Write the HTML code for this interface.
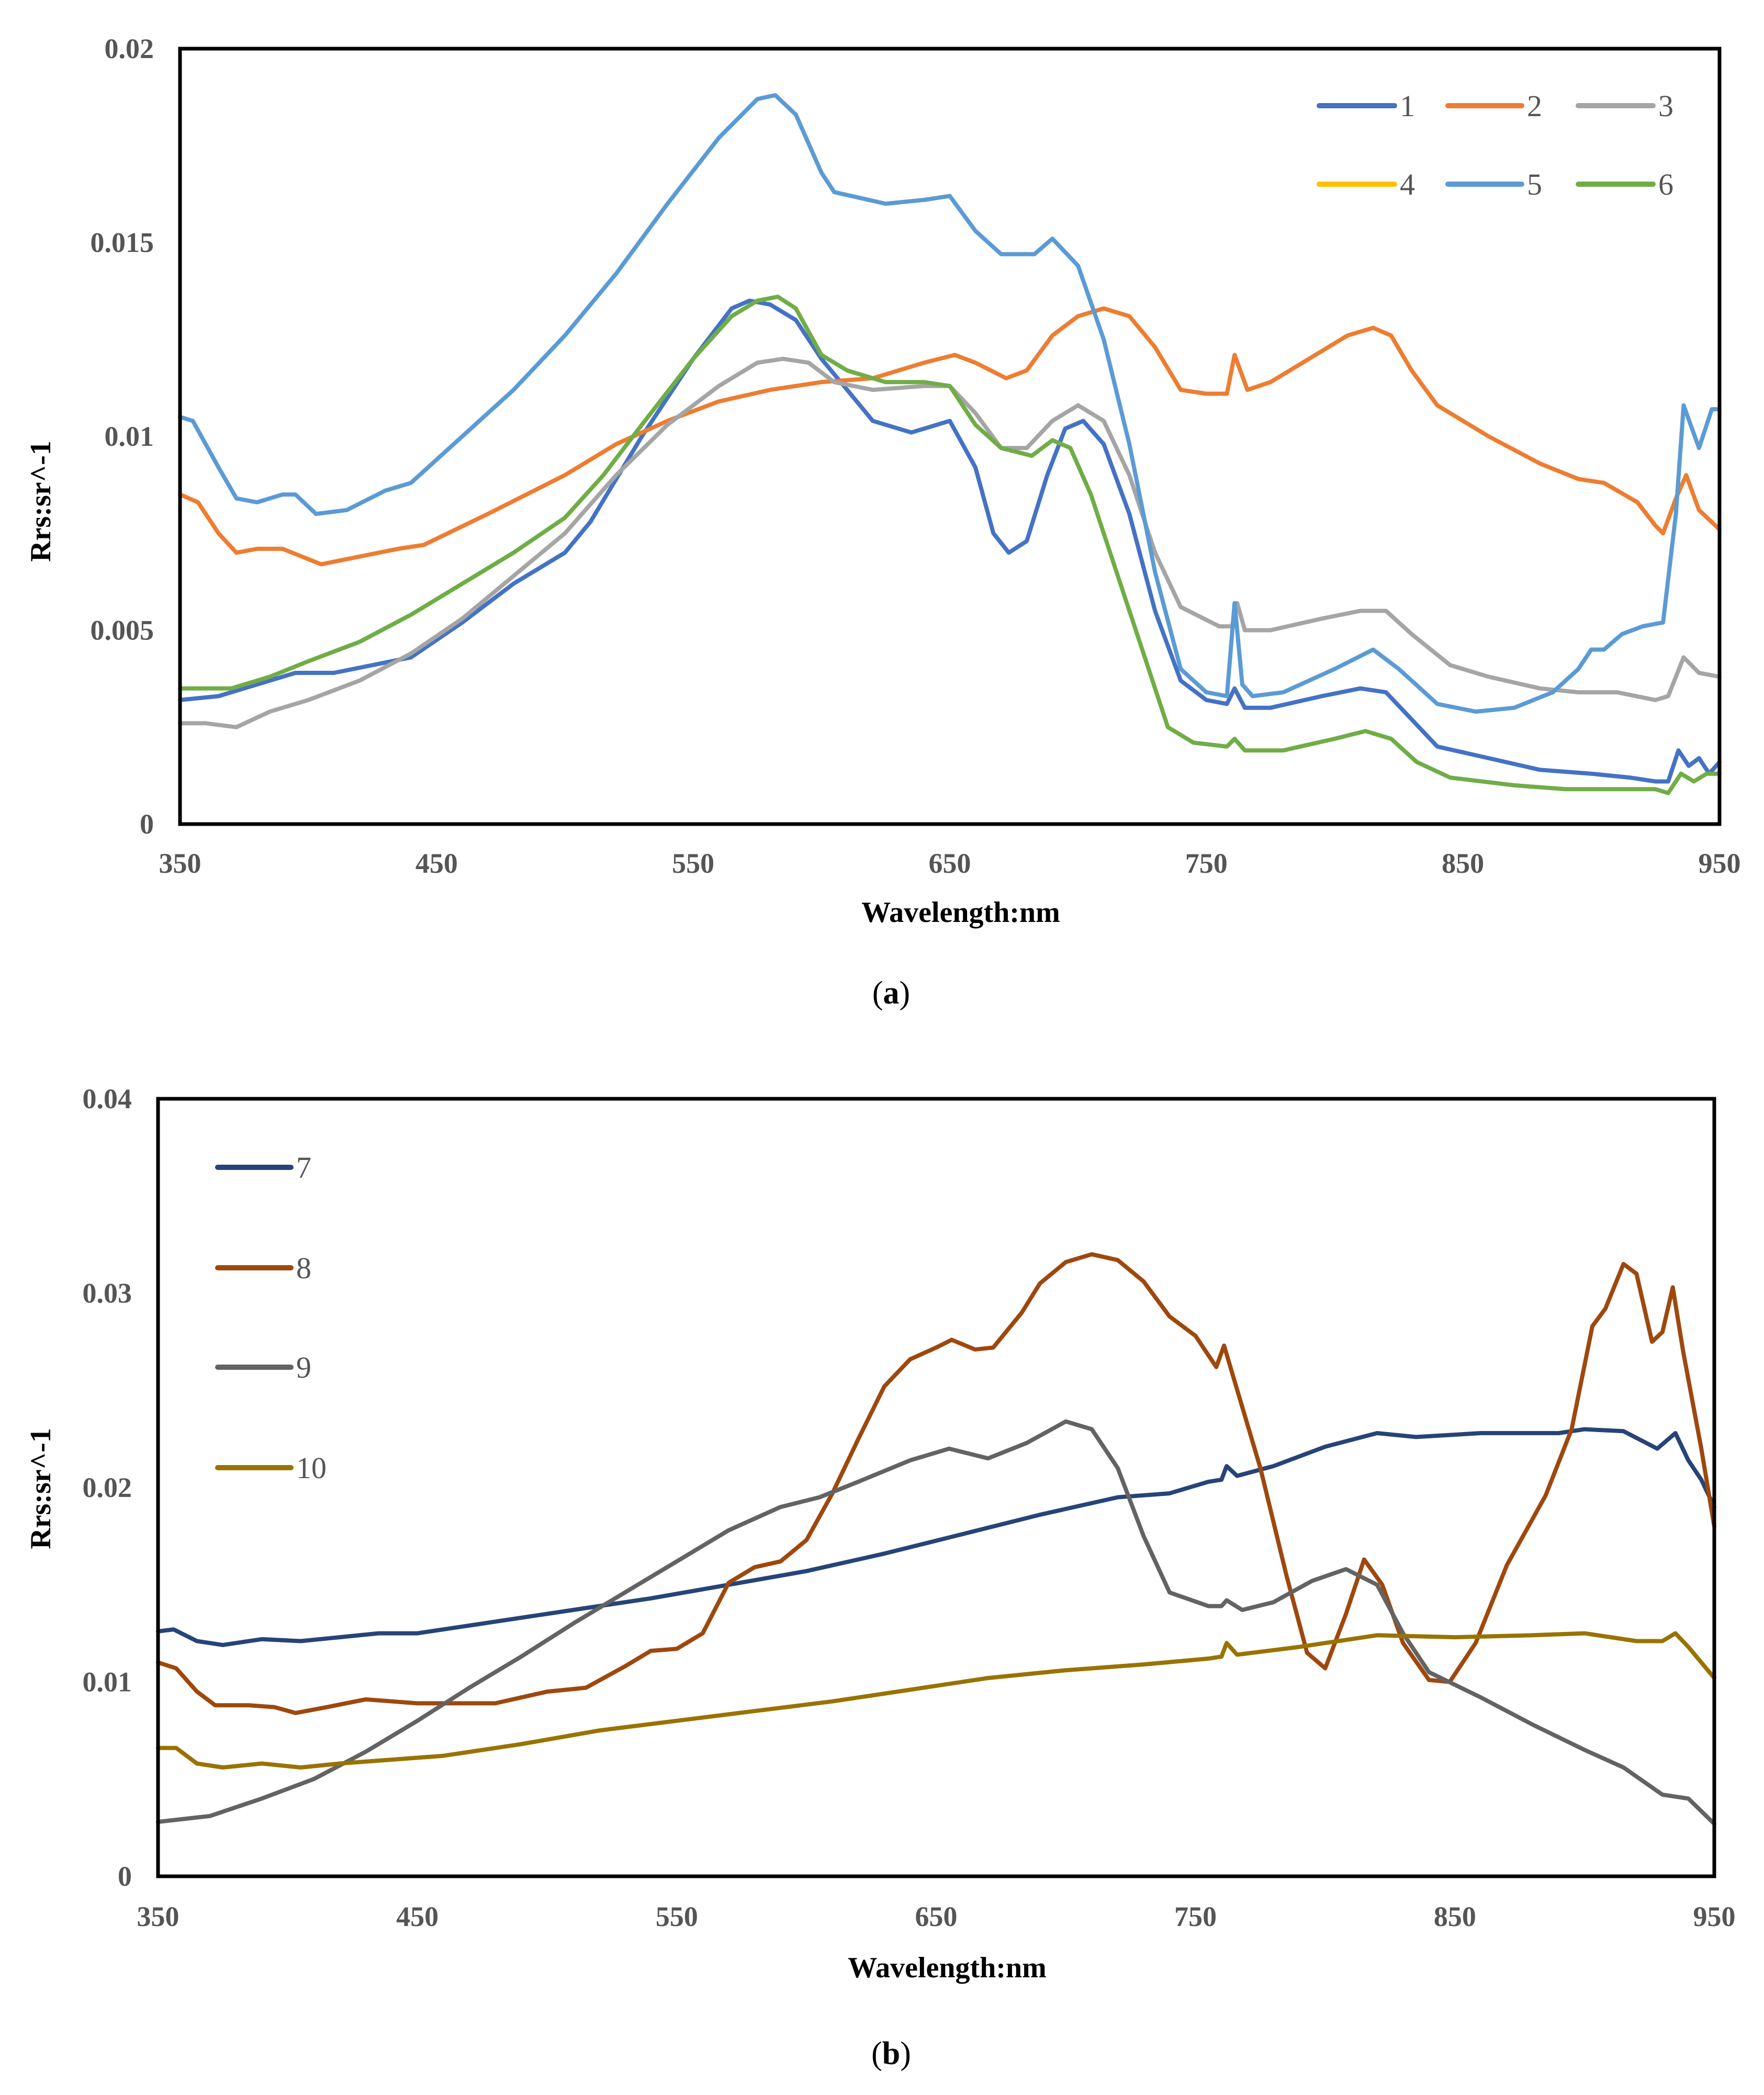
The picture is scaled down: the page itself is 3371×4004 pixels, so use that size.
<!DOCTYPE html>
<html><head><meta charset="utf-8">
<style>
html,body{margin:0;padding:0;background:#fff;}
svg{display:block;}
text{font-family:"Liberation Serif",serif;}
</style></head>
<body>
<svg id="fig" width="3371" height="4004" viewBox="0 0 3371 4004" xmlns="http://www.w3.org/2000/svg">
<g id="chartA"></g>
<g id="chartB"></g>
<text x="1703" y="1918" font-size="62" text-anchor="middle" fill="#000">(<tspan font-weight="bold">a</tspan>)</text>
<text x="1703" y="3945" font-size="62" text-anchor="middle" fill="#000">(<tspan font-weight="bold">b</tspan>)</text>
</svg>
<script>
const NS="http://www.w3.org/2000/svg";
// ---- chart A data ----
const xTicks=[350,450,550,650,750,850,950];
const yTicksA=[0,0.005,0.01,0.015,0.02];
const yTickLabelsA=["0","0.005","0.01","0.015","0.02"];
const namesA=["1","2","3","4","5","6"];
const colorsA=["#4472C4","#ED7D31","#A5A5A5","#FFC000","#5B9BD5","#70AD47"];
const s1wl=[350,365,380,395,410,425,440,460,480,500,510,530,550,565,572,580,590,600,610,620,635,650,660,667,673,680,688,695,702,710,720,730,740,750,758,761,765,775,795,810,820,830,840,860,880,900,915,925,930,934,938,942,946,950];
const s1v=[0.0032,0.0033,0.0036,0.0039,0.0039,0.0041,0.0043,0.0052,0.0062,0.0070,0.0078,0.0100,0.0120,0.0133,0.0135,0.0134,0.0130,0.0120,0.0112,0.0104,0.0101,0.0104,0.0092,0.0075,0.0070,0.0073,0.0090,0.0102,0.0104,0.0098,0.0080,0.0055,0.0037,0.0032,0.0031,0.0035,0.0030,0.0030,0.0033,0.0035,0.0034,0.0027,0.0020,0.0017,0.0014,0.0013,0.0012,0.0011,0.0011,0.0019,0.0015,0.0017,0.0013,0.0016];
const s2wl=[350,357,365,372,380,390,405,420,435,445,470,500,520,540,560,580,600,620,640,652,660,672,680,690,700,710,720,730,740,750,758,761,766,775,790,805,815,822,830,840,860,880,895,905,918,925,928,933,937,942,950];
const s2v=[0.0085,0.0083,0.0075,0.0070,0.0071,0.0071,0.0067,0.0069,0.0071,0.0072,0.0080,0.0090,0.0098,0.0104,0.0109,0.0112,0.0114,0.0115,0.0119,0.0121,0.0119,0.0115,0.0117,0.0126,0.0131,0.0133,0.0131,0.0123,0.0112,0.0111,0.0111,0.0121,0.0112,0.0114,0.0120,0.0126,0.0128,0.0126,0.0117,0.0108,0.0100,0.0093,0.0089,0.0088,0.0083,0.0077,0.0075,0.0084,0.0090,0.0081,0.0076];
const s3wl=[350,360,372,385,400,420,440,460,480,500,520,540,560,575,585,595,605,620,640,650,660,670,680,690,700,710,720,730,740,755,760,762,765,775,795,810,820,830,845,860,880,895,910,925,930,936,942,950];
const s3v=[0.0026,0.0026,0.0025,0.0029,0.0032,0.0037,0.0044,0.0053,0.0064,0.0075,0.0090,0.0103,0.0113,0.0119,0.0120,0.0119,0.0114,0.0112,0.0113,0.0113,0.0106,0.0097,0.0097,0.0104,0.0108,0.0104,0.0090,0.0070,0.0056,0.0051,0.0051,0.0057,0.0050,0.0050,0.0053,0.0055,0.0055,0.0049,0.0041,0.0038,0.0035,0.0034,0.0034,0.0032,0.0033,0.0043,0.0039,0.0038];
const s4wl=[];
const s4v=[];
const s5wl=[350,355,365,372,380,390,395,403,415,430,440,460,480,500,520,540,560,575,582,590,600,605,625,640,650,660,670,683,690,700,710,720,730,740,750,758,761,764,768,780,800,815,825,840,855,870,885,895,900,905,912,920,928,933,936,942,947,950];
const s5v=[0.0105,0.0104,0.0092,0.0084,0.0083,0.0085,0.0085,0.0080,0.0081,0.0086,0.0088,0.0100,0.0112,0.0126,0.0142,0.0160,0.0177,0.0187,0.0188,0.0183,0.0168,0.0163,0.0160,0.0161,0.0162,0.0153,0.0147,0.0147,0.0151,0.0144,0.0125,0.0098,0.0065,0.0040,0.0034,0.0033,0.0057,0.0036,0.0033,0.0034,0.0040,0.0045,0.0040,0.0031,0.0029,0.0030,0.0034,0.0040,0.0045,0.0045,0.0049,0.0051,0.0052,0.0080,0.0108,0.0097,0.0107,0.0107];
const s6wl=[350,370,385,400,420,440,460,480,500,515,530,550,565,575,583,590,600,610,625,640,650,660,670,682,690,697,705,715,725,735,745,758,761,765,780,800,812,822,832,845,870,890,910,925,930,935,940,945,950];
const s6v=[0.0035,0.0035,0.0038,0.0042,0.0047,0.0054,0.0062,0.0070,0.0079,0.0090,0.0103,0.0120,0.0131,0.0135,0.0136,0.0133,0.0121,0.0117,0.0114,0.0114,0.0113,0.0103,0.0097,0.0095,0.0099,0.0097,0.0085,0.0065,0.0045,0.0025,0.0021,0.0020,0.0022,0.0019,0.0019,0.0022,0.0024,0.0022,0.0016,0.0012,0.0010,0.0009,0.0009,0.0009,0.0008,0.0013,0.0011,0.0013,0.0013];
// ---- chart B data ----
const yTicksB=[0,0.01,0.02,0.03,0.04];
const yTickLabelsB=["0","0.01","0.02","0.03","0.04"];
const namesB=["7","8","9","10"];
const colorsB=["#264478","#9E480E","#636363","#997300"];
const s7wl=[350,356,365,375,390,405,420,435,450,480,510,540,570,600,630,660,690,720,740,755,760,762,766,780,800,820,835,860,890,900,915,928,935,940,945,950];
const s7v=[0.0126,0.0127,0.0121,0.0119,0.0122,0.0121,0.0123,0.0125,0.0125,0.0131,0.0137,0.0143,0.0150,0.0157,0.0166,0.0176,0.0186,0.0195,0.0197,0.0203,0.0204,0.0211,0.0206,0.0211,0.0221,0.0228,0.0226,0.0228,0.0228,0.0230,0.0229,0.0220,0.0228,0.0214,0.0204,0.0190];
const s8wl=[350,357,365,372,385,395,403,415,430,450,480,500,515,530,540,550,560,570,580,590,600,610,620,630,640,650,656,665,672,683,690,700,710,720,730,740,750,755,758,761,765,775,785,793,800,808,815,822,830,840,848,858,870,885,895,903,908,915,920,926,930,934,938,945,950];
const s8v=[0.0110,0.0107,0.0095,0.0088,0.0088,0.0087,0.0084,0.0087,0.0091,0.0089,0.0089,0.0095,0.0097,0.0108,0.0116,0.0117,0.0125,0.0151,0.0159,0.0162,0.0173,0.0197,0.0225,0.0252,0.0266,0.0272,0.0276,0.0271,0.0272,0.0290,0.0305,0.0316,0.0320,0.0317,0.0306,0.0288,0.0278,0.0268,0.0262,0.0273,0.0255,0.0210,0.0155,0.0115,0.0107,0.0135,0.0163,0.0150,0.0120,0.0101,0.0100,0.0120,0.0160,0.0196,0.0230,0.0283,0.0292,0.0315,0.0310,0.0275,0.0280,0.0303,0.0270,0.0220,0.0180];
const s9wl=[350,370,390,410,430,450,470,490,510,530,550,570,590,605,620,640,655,670,685,700,710,720,730,740,755,760,762,768,780,795,808,820,830,840,860,880,900,915,930,940,950];
const s9v=[0.0028,0.0031,0.0040,0.0050,0.0064,0.0080,0.0097,0.0113,0.0130,0.0146,0.0162,0.0178,0.0190,0.0195,0.0203,0.0214,0.0220,0.0215,0.0223,0.0234,0.0230,0.0210,0.0175,0.0146,0.0139,0.0139,0.0142,0.0137,0.0141,0.0152,0.0158,0.0150,0.0125,0.0105,0.0092,0.0078,0.0065,0.0056,0.0042,0.0040,0.0027];
const s10wl=[350,357,365,375,390,405,420,440,460,490,520,550,580,610,640,670,700,730,755,760,762,766,790,820,850,880,900,920,930,935,940,950];
const s10v=[0.0066,0.0066,0.0058,0.0056,0.0058,0.0056,0.0058,0.0060,0.0062,0.0068,0.0075,0.0080,0.0085,0.0090,0.0096,0.0102,0.0106,0.0109,0.0112,0.0113,0.0120,0.0114,0.0118,0.0124,0.0123,0.0124,0.0125,0.0121,0.0121,0.0125,0.0118,0.0102];

function mk(tag,attrs,parent){const e=document.createElementNS(NS,tag);for(const k in attrs)e.setAttribute(k,attrs[k]);parent.appendChild(e);return e;}

function drawChart(g,box,yMax,yTicks,yLabels,series,names,colors,legendPos,tickY,titleX,titleY,yTitleX,yTitleY,prefix){
  const xS=v=>box.l+(v-350)/600*(box.r-box.l);
  const yS=v=>box.b-v/yMax*(box.b-box.t);
  yTicks.forEach((t,i)=>{
    const tx=mk('text',{x:box.l-50,y:yS(t)+18,'font-size':54,'font-weight':'bold','text-anchor':'end',fill:'#555'},g);
    tx.textContent=yLabels[i];
    
    
  });
  xTicks.forEach(t=>{
    const tx=mk('text',{x:xS(t),y:tickY+18,'font-size':54,'font-weight':'bold','text-anchor':'middle',fill:'#555'},g);
    tx.textContent=String(t);
    
    
  });
  series.forEach((s,i)=>{
    if(!s.wl.length)return;
    const pts=s.wl.map((w,j)=>xS(w).toFixed(1)+','+yS(s.v[j]).toFixed(1)).join(' ');
    const pl=mk('polyline',{points:pts,fill:'none',stroke:colors[i],'stroke-width':8,'stroke-linejoin':'round','stroke-linecap':'round'},g);
    
    
  });
  const fr=mk('rect',{x:box.l,y:box.t,width:box.r-box.l,height:box.b-box.t,fill:'none',stroke:'#000','stroke-width':7},g);
  
  
  legendPos.forEach((p,i)=>{
    const lg=mk('g',{},g);
    
    
    mk('line',{x1:p[0],y1:p[1],x2:p[0]+p[2],y2:p[1],stroke:colors[i],'stroke-width':10,'stroke-linecap':'round'},lg);
    const tx=mk('text',{x:p[0]+p[2]+10,y:p[1]+20,'font-size':58,fill:'#555'},lg);
    tx.textContent=names[i];
  });
  const xt=mk('text',{x:titleX,y:titleY+18,'font-size':56,'font-weight':'bold','text-anchor':'middle',fill:'#000'},g);
  xt.textContent='Wavelength:nm';
  
  
  const yt=mk('text',{x:0,y:0,'font-size':56,'font-weight':'bold','text-anchor':'middle',fill:'#000',transform:'translate('+(yTitleX+18)+','+yTitleY+') rotate(-90)'},g);
  yt.textContent='Rrs:sr^-1';
  
  
}

const seriesA=[{wl:s1wl,v:s1v},{wl:s2wl,v:s2v},{wl:s3wl,v:s3v},{wl:s4wl,v:s4v},{wl:s5wl,v:s5v},{wl:s6wl,v:s6v}];
drawChart(document.getElementById('chartA'),{l:344,r:3286,t:93,b:1575},0.02,yTicksA,yTickLabelsA,seriesA,namesA,colorsA,
 [[2521,202,144],[2767,202,141],[3016,202,143],[2521,352,144],[2767,352,141],[3016,352,143]],
 1650,1836,1744,78,958,'a');

const seriesB=[{wl:s7wl,v:s7v},{wl:s8wl,v:s8v},{wl:s9wl,v:s9v},{wl:s10wl,v:s10v}];
drawChart(document.getElementById('chartB'),{l:302,r:3276,t:2100,b:3586},0.04,yTicksB,yTickLabelsB,seriesB,namesB,colorsB,
 [[416,2231,140],[416,2423,140],[416,2613,140],[416,2805,140]],
 3663,1810,3761,78,2845,'b');
</script>
</body></html>
